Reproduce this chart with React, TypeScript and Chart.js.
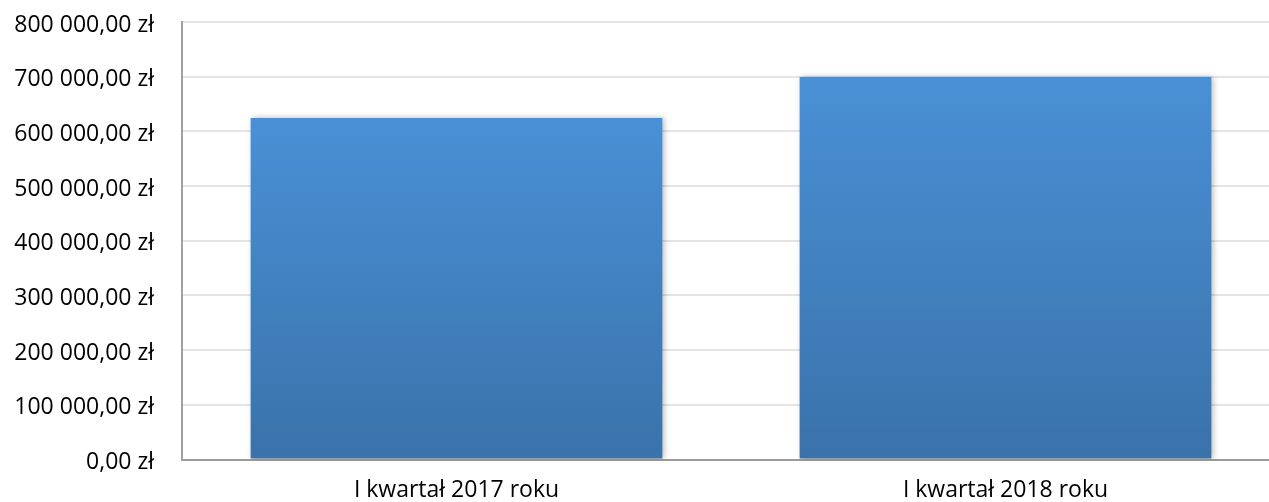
import React, { useEffect, useRef } from "react";
import { Chart, registerables } from "chart.js";

Chart.register(...registerables);

const categories = ["I kwartał 2017 roku", "I kwartał 2018 roku"];
const values = [624500, 699400];
const yTicks = [0, 100000, 200000, 300000, 400000, 500000, 600000, 700000, 800000];

const fmt = (v: number) => {
  const s = Math.round(v).toString().replace(/\B(?=(\d{3})+(?!\d))/g, " ");
  return s + ",00 zł";
};

export default function App() {
  const ref = useRef<HTMLCanvasElement | null>(null);
  useEffect(() => {
    document.body.style.overflow = "hidden";
    const shadow = {
      id: "barShadow",
      beforeDatasetsDraw(chart: any) {
        const c = chart.ctx;
        c.save();
        c.shadowColor = "rgba(0,0,0,0.28)";
        c.shadowBlur = 6;
        c.shadowOffsetX = 2;
        c.shadowOffsetY = 0;
      },
      afterDatasetsDraw(chart: any) {
        chart.ctx.restore();
      },
    };
    const chart = new Chart(ref.current!, {
      type: "bar",
      data: {
        labels: categories,
        datasets: [
          {
            data: values,
            barPercentage: 0.75,
            categoryPercentage: 1,
            backgroundColor: (ctx: any) => {
              const ch = ctx.chart;
              const y = ch.scales?.y;
              if (!ch.chartArea || !y) return "#4589cc";
              const top = y.getPixelForValue(ctx.raw);
              const bottom = y.getPixelForValue(0);
              const g = ch.ctx.createLinearGradient(0, top, 0, bottom);
              g.addColorStop(0, "#4990d6");
              g.addColorStop(1, "#3a72aa");
              return g;
            },
          },
        ],
      },
      options: {
        animation: false,
        responsive: true,
        maintainAspectRatio: false,
        layout: { padding: { top: 22, right: 0, left: 0, bottom: 0 } },
        plugins: { legend: { display: false }, tooltip: { enabled: false } },
        scales: {
          x: {
            grid: { display: false, drawTicks: false },
            border: { color: "#9a9a9a", width: 2 },
            ticks: {
              color: "#000",
              padding: 17,
              font: { family: "'Open Sans'", size: 23 },
            },
            afterFit: (s: any) => {
              s.height = 42.5;
            },
          },
          y: {
            min: 0,
            max: 800000,
            afterBuildTicks: (s: any) => {
              s.ticks = yTicks.map((v) => ({ value: v }));
            },
            grid: {
              color: "#e4e4e4",
              lineWidth: 2,
              drawTicks: true,
              tickLength: 25,
              tickColor: "rgba(0,0,0,0)",
            },
            border: { color: "#a0a0a0", width: 2 },
            ticks: {
              color: "#000",
              padding: 3,
              labelOffset: 3,
              font: { family: "'Open Sans'", size: 23 },
              callback: (v: any) => fmt(Number(v)),
            },
            afterFit: (s: any) => {
              s.width = 182;
            },
          },
        },
      },
      plugins: [shadow],
    });
    return () => chart.destroy();
  }, []);
  return (
    <div style={{ position: "fixed", left: 0, top: 0, width: 1280, height: 502 }}>
      <canvas ref={ref} />
    </div>
  );
}
